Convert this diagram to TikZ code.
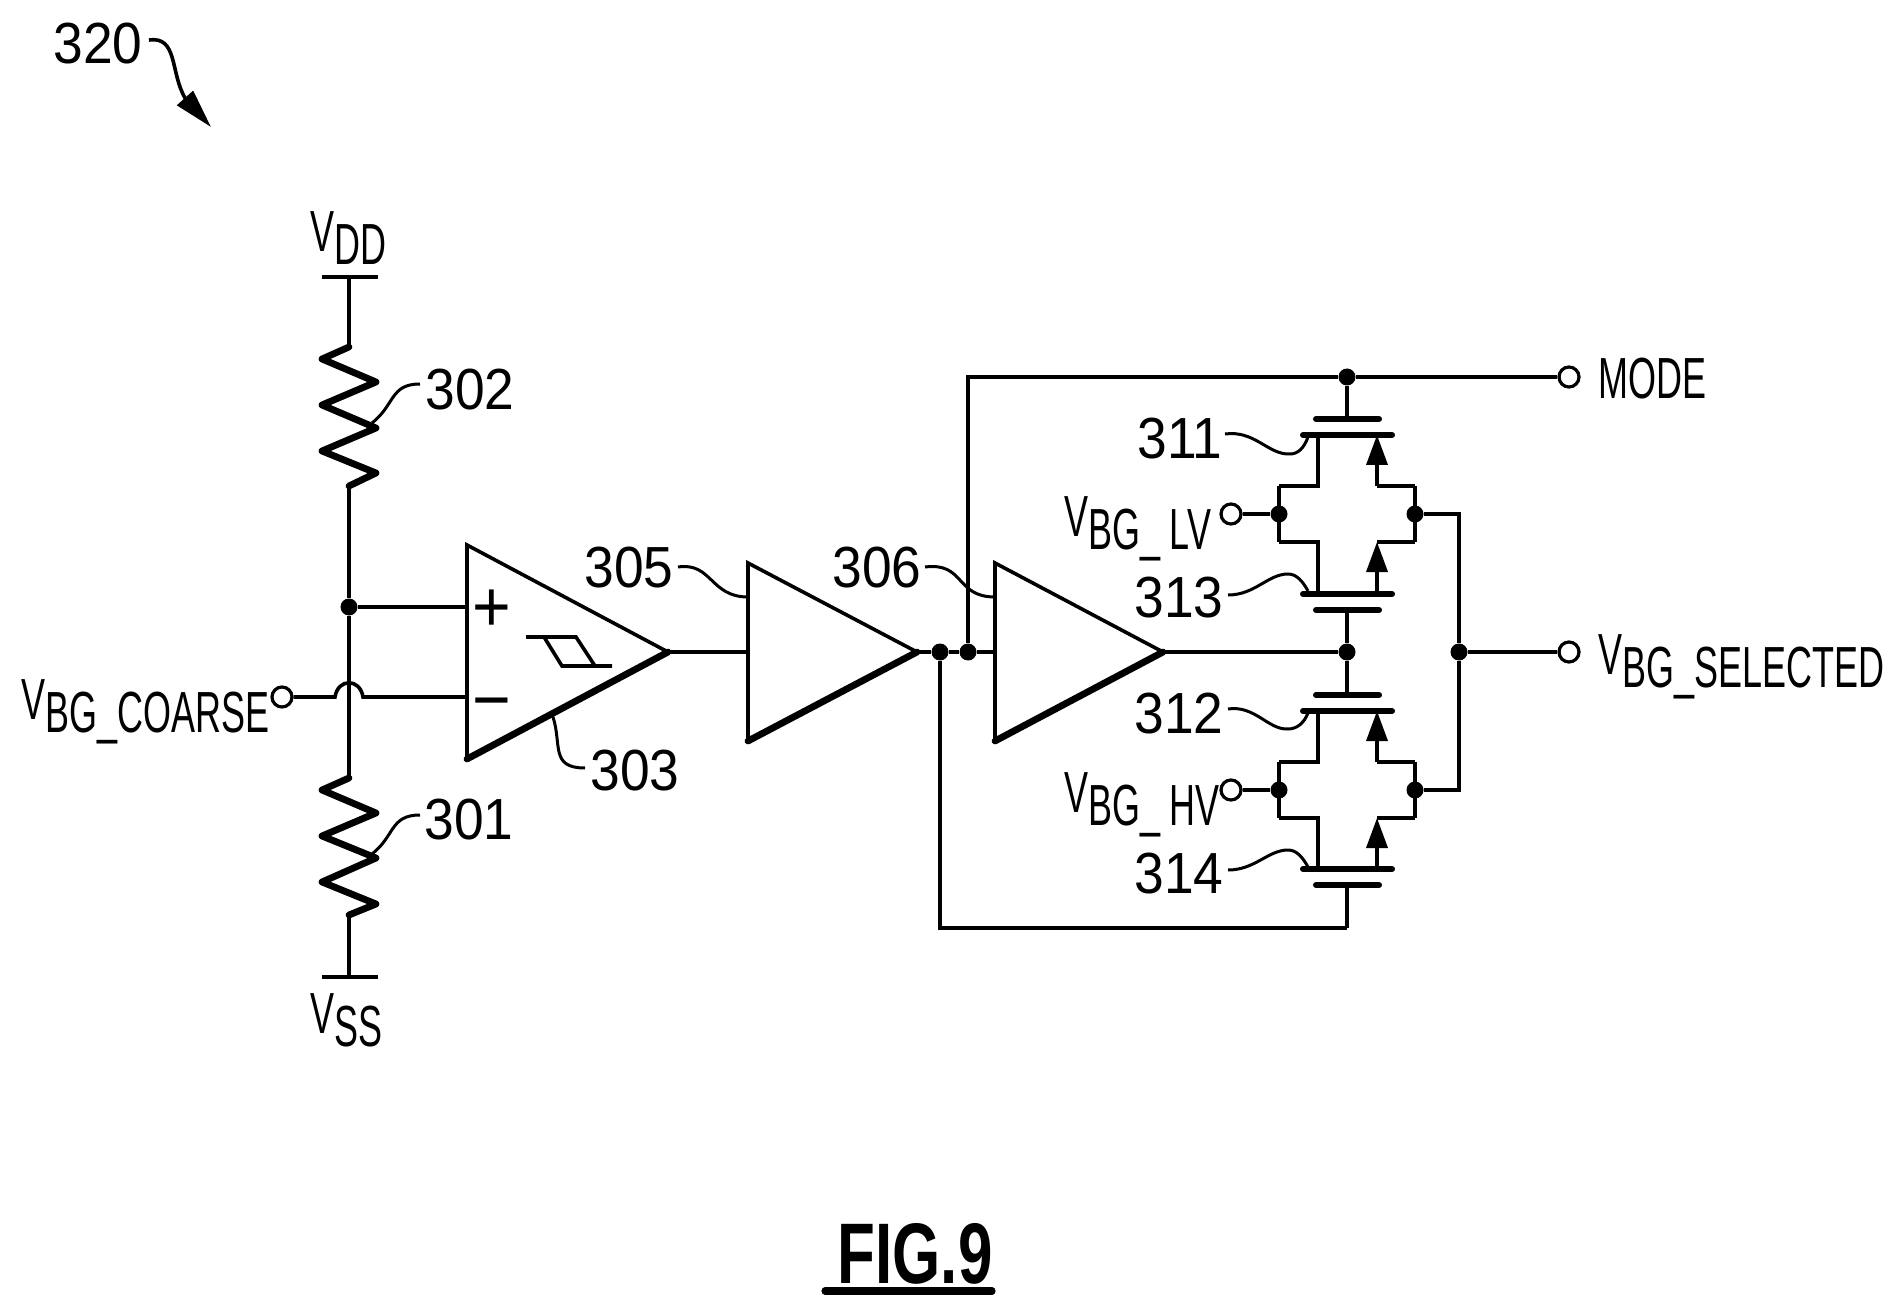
\documentclass[tikz,border=0pt]{standalone}
\usepackage{fontspec}
\usetikzlibrary{arrows.meta}
\newfontfamily\capfont{Liberation Sans}[FakeStretch=0.62]
\newfontfamily\numfont{Liberation Sans}[FakeStretch=0.92]
\newfontfamily\figfont{Liberation Sans}[FakeStretch=0.72,BoldFont={Liberation Sans Bold}]
\newcommand{\vlabel}[1]{\raisebox{6.5pt}{V}#1}
\begin{document}
\begin{tikzpicture}[x=0.5pt,y=-0.5pt,
	wire/.style = {line width=1.8pt},
	thickline/.style = {line width=3.4pt,line cap=round,line join=round},
	plate/.style = {line width=3pt,line cap=round},
	leader/.style = {line width=1.5pt},
	junction/.style = {circle,fill=black,inner sep=0pt,minimum size=8.5pt},
	terminal/.style = {circle,draw,fill=white,line width=1.6pt,inner sep=0pt,minimum size=10pt},
	numlabel/.style = {inner sep=0pt,yshift=-1.2pt,font=\numfont\fontsize{29}{29}\selectfont},
	siglabel/.style = {inner sep=0pt,anchor=base west,font=\capfont\fontsize{29}{29}\selectfont},
	signlabel/.style = {inner sep=0pt,font=\numfont\fontsize{36}{36}\selectfont},
	mostip/.style = {-{Triangle[length=15pt,width=10.5pt]}}]

	\useasboundingbox (0,0) rectangle (1904,1315);

	% Title arrow
	\node[numlabel] (n320) at (98,41) {320};
	\coordinate (arrowtip) at (211,127);
	\coordinate (arrowstart) at (149,40);
	\draw[leader,line width=1.8pt,-{Triangle[length=19.5pt,width=10.5pt]}] (arrowstart) .. controls (178,36) and (170,72) .. (185,98) -- (arrowtip);

	% Divider: supply rail and resistors
	\coordinate (vddl) at (322,277);
	\coordinate (vddr) at (378,277);
	\coordinate (vddm) at (349,277);
	\coordinate (vssl) at (322,977);
	\coordinate (vssr) at (378,977);
	\coordinate (vssm) at (349,977);
	\coordinate (r2top) at (349,347);
	\coordinate (r2bot) at (349,486);
	\coordinate (r1top) at (349,778);
	\coordinate (r1bot) at (349,915);
	\node[junction] (jdiv) at (349,607) {};
	\draw[wire] (vddl) -- (vddr);
	\draw[wire] (vssl) -- (vssr);
	\draw[wire] (vddm) -- (r2top);
	\draw[wire] (r2bot) -- (jdiv) -- (r1top);
	\draw[wire] (r1bot) -- (vssm);
	\draw[thickline] (r2top) -- (322,359) -- (376,382) -- (322,405) -- (376,428) -- (322,451) -- (376,473) -- (r2bot);
	\draw[thickline] (r1top) -- (322,790) -- (376,813) -- (322,836) -- (376,858) -- (322,882) -- (376,904) -- (r1bot);
	\node[siglabel] (vdd) at (310,265) {\vlabel{DD}};
	\node[siglabel] (vss) at (310,1046) {\vlabel{SS}};
	\node[numlabel] (n302) at (470,387) {302};
	\node[numlabel] (n301) at (469,817) {301};
	\draw[leader] (372,423) .. controls (395,405) and (390,384) .. (420,384);
	\draw[leader] (372,854) .. controls (395,836) and (390,815) .. (420,815);

	% Comparator
	\coordinate (ca) at (467,545);
	\coordinate (cb) at (467,759);
	\coordinate (cc) at (668,652);
	\coordinate (cplus) at (467,607);
	\coordinate (cminus) at (467,697);
	\draw[wire] (cb) -- (ca) -- (cc);
	\draw[thickline] (cb) -- (cc);
	\draw[wire] (jdiv) -- (cplus);
	\node[terminal] (tcoarse) at (282,697) {};
	\coordinate (hopl) at (335,697);
	\coordinate (hopr) at (363,697);
	\draw[wire] (tcoarse) -- (hopl) .. controls (338,678) and (360,678) .. (hopr) -- (cminus);
	\node[signlabel] (plus) at (492,611) {+};
	\node[signlabel] (minus) at (492,711) {−};
	\draw[wire] (526,637) -- (576,637) -- (595,666);
	\draw[wire] (612,666) -- (562,666) -- (544,637);
	\node[siglabel] (vcoarse) at (21,732) {\vlabel{BG\_COARSE}};
	\node[numlabel] (n303) at (635,768) {303};
	\draw[leader] (553,717) .. controls (562,745) and (550,768) .. (585,768);

	% Buffers
	\coordinate (b1a) at (748,563);
	\coordinate (b1b) at (748,741);
	\coordinate (b1c) at (917,652);
	\coordinate (b1i) at (748,652);
	\coordinate (b2a) at (995,563);
	\coordinate (b2b) at (995,741);
	\coordinate (b2c) at (1163,652);
	\coordinate (b2i) at (995,652);
	\draw[wire] (b1b) -- (b1a) -- (b1c);
	\draw[thickline] (b1b) -- (b1c);
	\draw[wire] (b2b) -- (b2a) -- (b2c);
	\draw[thickline] (b2b) -- (b2c);
	\draw[wire] (cc) -- (b1i);
	\node[junction] (jfb) at (940,652) {};
	\node[junction] (jmode) at (968,652) {};
	\draw[wire] (b1c) -- (jfb) -- (jmode) -- (b2i);
	\node[numlabel] (n305) at (629,565) {305};
	\node[numlabel] (n306) at (877,565) {306};
	\draw[leader] (678,567) .. controls (712,562) and (710,597) .. (748,597);
	\draw[leader] (925,567) .. controls (965,562) and (955,597) .. (995,597);

	% Mode and output lines
	\node[junction] (jtop) at (1347,377) {};
	\node[terminal] (tmode) at (1569,377) {};
	\node[junction] (jmid) at (1347,652) {};
	\node[junction] (jout) at (1459,652) {};
	\node[terminal] (tout) at (1569,652) {};
	\coordinate (topleft) at (968,377);
	\coordinate (botleft) at (940,928);
	\coordinate (botmid) at (1347,928);
	\draw[wire] (jmode) -- (topleft) -- (jtop) -- (tmode);
	\draw[wire] (jfb) -- (botleft) -- (botmid);
	\draw[wire] (b2c) -- (jmid);
	\draw[wire] (jout) -- (tout);
	\node[siglabel] (mode) at (1598,399) {MODE};
	\node[siglabel] (vsel) at (1598,687) {\vlabel{BG\_SELECTED}};

	% Transistors: name, gate, channel, knee, arrow start and arrow end
	\foreach \n/\g/\c/\k/\f/\t in {a/419/435/486/486/435, b/610/594/542/594/542, c/695/711/762/762/711, d/885/869/818/869/818} {
		\coordinate (\n g) at (1347,\g);
		\coordinate (\n l) at (1303,\c);
		\coordinate (\n r) at (1392,\c);
		\draw[plate] (1316,\g) -- (1379,\g);
		\draw[plate] (\n l) -- (\n r);
		\draw[wire] (1318,\c) -- (1318,\k) -- (1279,\k);
		\draw[wire] (1415,\k) -- (1377,\k);
		\draw[wire,mostip] (1377,\f) -- (1377,\t);
	}
	\draw[wire] (jtop) -- (ag);
	\draw[wire] (jmid) -- (bg);
	\draw[wire] (jmid) -- (cg);
	\draw[wire] (botmid) -- (dg);

	% Switch pairs
	\node[junction] (jlvl) at (1279,514) {};
	\node[junction] (jlvr) at (1415,514) {};
	\node[junction] (jhvl) at (1279,790) {};
	\node[junction] (jhvr) at (1415,790) {};
	\node[terminal] (tlv) at (1231,514) {};
	\node[terminal] (thv) at (1231,790) {};
	\coordinate (lvout) at (1459,514);
	\coordinate (hvout) at (1459,790);
	\draw[wire] (1279,486) -- (1279,542);
	\draw[wire] (1415,486) -- (1415,542);
	\draw[wire] (1279,762) -- (1279,818);
	\draw[wire] (1415,762) -- (1415,818);
	\draw[wire] (tlv) -- (jlvl);
	\draw[wire] (thv) -- (jhvl);
	\draw[wire] (jlvr) -- (lvout) -- (jout);
	\draw[wire] (jhvr) -- (hvout) -- (jout);
	\node[siglabel] (vlv) at (1064,549) {\vlabel{BG\_\,LV}};
	\node[siglabel] (vhv) at (1064,825) {\vlabel{BG\_\,HV}};

	% Transistor labels
	\node[numlabel] (n311) at (1180,436) {311};
	\node[numlabel] (n313) at (1179,595) {313};
	\node[numlabel] (n312) at (1179,711) {312};
	\node[numlabel] (n314) at (1179,871) {314};
	\draw[leader] (1225,434) .. controls (1255,430) and (1268,455) .. (1290,454) .. controls (1298,454) and (1304,448) .. (1308,437);
	\draw[leader] (1228,595) .. controls (1255,595) and (1268,574) .. (1288,574) .. controls (1297,574) and (1303,582) .. (1308,591);
	\draw[leader] (1228,709) .. controls (1255,705) and (1268,730) .. (1288,729) .. controls (1297,729) and (1304,723) .. (1308,713);
	\draw[leader] (1228,870) .. controls (1255,870) and (1268,850) .. (1288,850) .. controls (1297,850) and (1303,858) .. (1308,867);

	% Figure label
	\node[inner sep=0pt,anchor=base,font=\figfont\bfseries\fontsize{43}{43}\selectfont] (fig) at (915,1283) {FIG.9};
	\coordinate (ulinel) at (825,1291);
	\coordinate (uliner) at (992,1291);
	\draw[line width=3.6pt,line cap=round] (ulinel) -- (uliner);

\end{tikzpicture}
\end{document}
